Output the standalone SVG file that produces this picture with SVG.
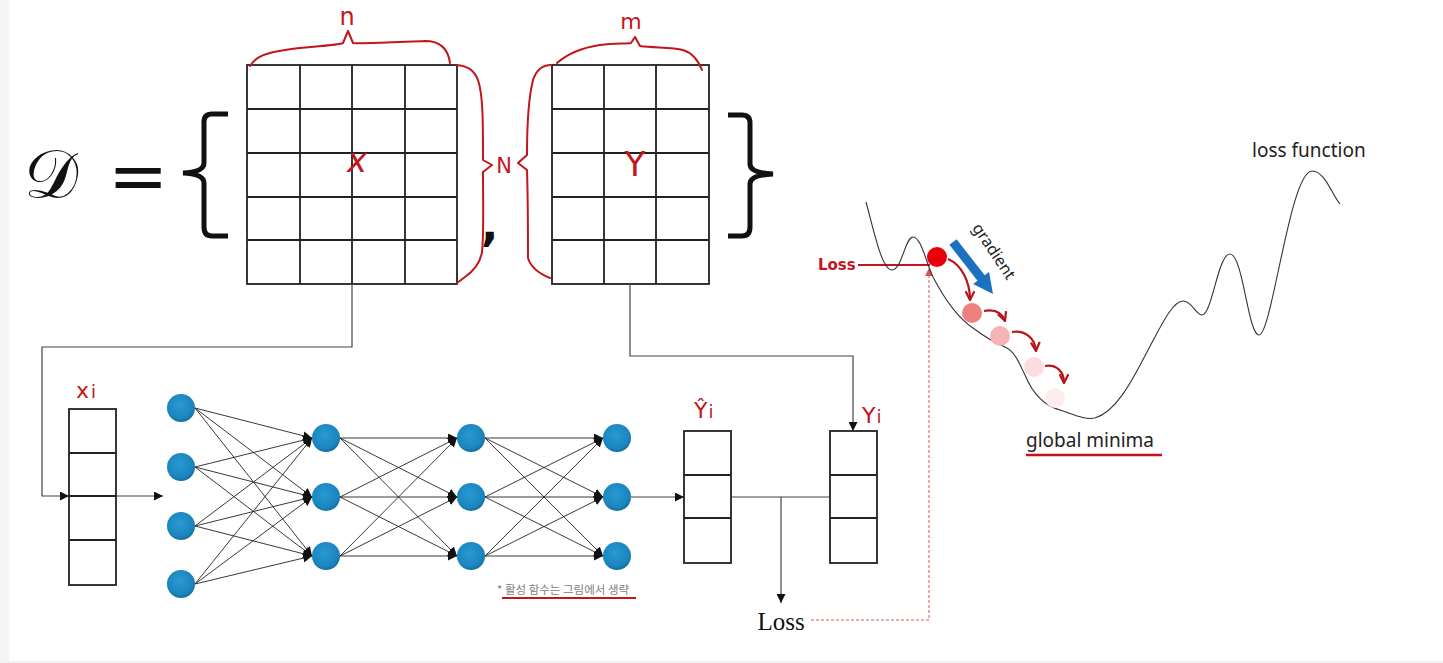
<svg xmlns="http://www.w3.org/2000/svg" width="1443" height="663" viewBox="0 0 1443 663">
<style>
.grid{fill:none;stroke:#222;stroke-width:1.8}
.hand{fill:none;stroke:#c3161c;stroke-width:2;stroke-linecap:round;stroke-linejoin:round}
.hw{fill:#c3161c;font-family:"DejaVu Sans",sans-serif}
.conn{fill:none;stroke:#444;stroke-width:1.2}
.edge{stroke:#222;stroke-width:0.9;marker-end:url(#ah)}
.node{fill:url(#ng)}
.lbl{font-family:"Noto Sans","Noto Sans CJK KR",sans-serif;fill:#222}
.ball{stroke:none}
.curv{fill:none;stroke:#b8141b;stroke-width:2.2;marker-end:url(#rv)}
</style>
<defs>
<radialGradient id="ng" cx="0.45" cy="0.4" r="0.6">
<stop offset="0" stop-color="#2a9ad2"/>
<stop offset="0.8" stop-color="#1a84bd"/>
<stop offset="1" stop-color="#146e9e"/>
</radialGradient>
<marker id="ah" viewBox="0 0 10 10" refX="10" refY="5" markerWidth="9" markerHeight="9" markerUnits="userSpaceOnUse" orient="auto">
<path d="M0,0 L10,5 L0,10 z" fill="#111"/>
</marker>
<marker id="ahr" viewBox="0 0 10 10" refX="10" refY="5" markerWidth="8" markerHeight="8" markerUnits="userSpaceOnUse" orient="auto">
<path d="M0,0 L10,5 L0,10 z" fill="#e05050"/>
</marker>
<marker id="rv" viewBox="0 0 10 10" refX="9" refY="5" markerWidth="11" markerHeight="11" markerUnits="userSpaceOnUse" orient="auto">
<path d="M1,1 L9,5 L1,9" fill="none" stroke="#b8141b" stroke-width="2"/>
</marker>
</defs>
<rect x="0" y="0" width="1443" height="663" fill="#ffffff"/>
<rect x="0" y="0" width="9" height="663" fill="#f5f5f5"/>
<rect x="0" y="661" width="1443" height="2" fill="#f2f2f2"/>

<g id="dataset">
<text x="24" y="198" font-family="DejaVu Serif,serif" font-size="68" fill="#111">𝒟</text>
<text x="108" y="200" font-family="DejaVu Sans,sans-serif" font-size="72" fill="#111">=</text>
<path d="M228,114 L212,114 Q204,114 204,122 L204,163 Q204,172 183,173 Q204,174 204,183 L204,227 Q204,236 212,236 L228,236" fill="none" stroke="#111" stroke-width="5"/>
<path d="M728,115 L742,115 Q750,115 750,123 L750,164 Q750,173 773,174 Q750,175 750,184 L750,227 Q750,236 742,236 L728,236" fill="none" stroke="#111" stroke-width="5"/>
<text x="481" y="240" font-family="DejaVu Sans,sans-serif" font-weight="bold" font-size="46" fill="#111">,</text>
</g>

<g id="matrix-x">
<rect class="grid" x="247" y="65" width="210" height="219"/>
<path class="grid" d="M300,65V284M352,65V284M405,65V284M247,109H457M247,153H457M247,197H457M247,240H457"/>
<text class="hw" x="357" y="172" font-size="34" font-style="italic" text-anchor="middle">x</text>
<path class="hand" d="M250,66 C256,56 266,53 285,50 C310,46 335,46 343,43 L348,31 L353,43 C370,44 400,42 425,41 C440,41 448,48 450,63"/>
<text class="hw" x="347" y="25" font-size="24" text-anchor="middle">n</text>
<path class="hand" d="M456,65 C468,66 474,70 478,80 C483,95 483,120 483,160 L492,165 L483,172 C483,200 484,235 482,252 C480,265 472,272 465,277 L457,283"/>
</g>

<g id="matrix-y">
<rect class="grid" x="552" y="65" width="157" height="219"/>
<path class="grid" d="M604,65V284M656,65V284M552,109H709M552,153H709M552,197H709M552,240H709"/>
<text class="hw" x="635" y="176" font-size="34" text-anchor="middle">Y</text>
<path class="hand" d="M557,63 C565,56 580,48 600,45 C615,43 625,44 631,43 L635,37 L640,46 C655,48 672,47 683,50 C693,53 698,60 702,70"/>
<text class="hw" x="631" y="29" font-size="22" text-anchor="middle">m</text>
<path class="hand" d="M551,65 C544,65 537,68 533,80 C528,100 527,130 527,155 L518,163 L527,170 C528,200 528,235 528,258 C531,268 540,274 550,278"/>
<text class="hw" x="504" y="173" font-size="21" text-anchor="middle">N</text>
</g>

<g id="connectors">
<path class="conn" d="M352,284 V347 H42 V496 H69" marker-end="url(#ah)"/>
<path class="conn" d="M116,496 H163" marker-end="url(#ah)"/>
<path class="conn" d="M630,284 V356 H853 V431" marker-end="url(#ah)"/>
<path class="conn" d="M631,497 H684" marker-end="url(#ah)"/>
<path class="conn" d="M731,497 H830"/>
<path class="conn" d="M781,497 V603" marker-end="url(#ah)"/>
<path d="M811,620 H929 V268" fill="none" stroke="#e05050" stroke-width="1" stroke-dasharray="3,2" marker-end="url(#ahr)"/>
<path d="M858,265 H930" fill="none" stroke="#c3161c" stroke-width="2"/>
<line class="edge" x1="195" y1="408" x2="312" y2="438"/>
<line class="edge" x1="195" y1="408" x2="312" y2="497"/>
<line class="edge" x1="195" y1="408" x2="312" y2="556"/>
<line class="edge" x1="195" y1="467" x2="312" y2="438"/>
<line class="edge" x1="195" y1="467" x2="312" y2="497"/>
<line class="edge" x1="195" y1="467" x2="312" y2="556"/>
<line class="edge" x1="195" y1="526" x2="312" y2="438"/>
<line class="edge" x1="195" y1="526" x2="312" y2="497"/>
<line class="edge" x1="195" y1="526" x2="312" y2="556"/>
<line class="edge" x1="195" y1="584" x2="312" y2="438"/>
<line class="edge" x1="195" y1="584" x2="312" y2="497"/>
<line class="edge" x1="195" y1="584" x2="312" y2="556"/>
<line class="edge" x1="340" y1="438" x2="457" y2="438"/>
<line class="edge" x1="340" y1="438" x2="457" y2="497"/>
<line class="edge" x1="340" y1="438" x2="457" y2="556"/>
<line class="edge" x1="340" y1="497" x2="457" y2="438"/>
<line class="edge" x1="340" y1="497" x2="457" y2="497"/>
<line class="edge" x1="340" y1="497" x2="457" y2="556"/>
<line class="edge" x1="340" y1="556" x2="457" y2="438"/>
<line class="edge" x1="340" y1="556" x2="457" y2="497"/>
<line class="edge" x1="340" y1="556" x2="457" y2="556"/>
<line class="edge" x1="485" y1="438" x2="603" y2="438"/>
<line class="edge" x1="485" y1="438" x2="603" y2="497"/>
<line class="edge" x1="485" y1="438" x2="603" y2="556"/>
<line class="edge" x1="485" y1="497" x2="603" y2="438"/>
<line class="edge" x1="485" y1="497" x2="603" y2="497"/>
<line class="edge" x1="485" y1="497" x2="603" y2="556"/>
<line class="edge" x1="485" y1="556" x2="603" y2="438"/>
<line class="edge" x1="485" y1="556" x2="603" y2="497"/>
<line class="edge" x1="485" y1="556" x2="603" y2="556"/>
</g>

<g id="xi-vector">
<rect class="grid" x="69" y="409" width="47" height="176"/>
<path class="grid" d="M69,453H116M69,496H116M69,540H116"/>
<text class="hw" x="76" y="398" font-size="22">x<tspan font-size="18" dx="2">i</tspan></text>
</g>

<g id="layer1">
<circle id="n1-1" class="node" cx="181" cy="408" r="14"/>
<circle id="n1-2" class="node" cx="181" cy="467" r="14"/>
<circle id="n1-3" class="node" cx="181" cy="526" r="14"/>
<circle id="n1-4" class="node" cx="181" cy="584" r="14"/>
</g>
<g id="layer2">
<circle id="n2-1" class="node" cx="326" cy="438" r="14"/>
<circle id="n2-2" class="node" cx="326" cy="497" r="14"/>
<circle id="n2-3" class="node" cx="326" cy="556" r="14"/>
</g>
<g id="layer3">
<circle id="n3-1" class="node" cx="471" cy="438" r="14"/>
<circle id="n3-2" class="node" cx="471" cy="497" r="14"/>
<circle id="n3-3" class="node" cx="471" cy="556" r="14"/>
</g>
<g id="layer4">
<circle id="n4-1" class="node" cx="617" cy="438" r="14"/>
<circle id="n4-2" class="node" cx="617" cy="497" r="14"/>
<circle id="n4-3" class="node" cx="617" cy="556" r="14"/>
</g>

<g id="note">
<text x="497" y="594" font-family="'Noto Sans CJK KR',sans-serif" font-size="11.5" fill="#808080">* 활성 함수는 그림에서 생략</text>
<line x1="502" y1="598" x2="636" y2="598" stroke="#c3161c" stroke-width="2"/>
</g>

<g id="yhat-vector">
<rect class="grid" x="684" y="431" width="47" height="132"/>
<path class="grid" d="M684,475H731M684,518H731"/>
<text class="hw" x="694" y="418" font-size="22">Ŷ<tspan font-size="18" dx="1">i</tspan></text>
</g>

<g id="y-vector">
<rect class="grid" x="830" y="431" width="47" height="132"/>
<path class="grid" d="M830,475H877M830,518H877"/>
<text class="hw" x="862" y="423" font-size="22">Y<tspan font-size="18" dx="1">i</tspan></text>
</g>

<g id="loss">
<text x="781" y="630" font-family="'Liberation Serif',serif" font-size="25" fill="#111" text-anchor="middle">Loss</text>
</g>

<g id="loss-curve">
<path d="M866,202 C875,235 882,270 892,270 C902,270 905,237 913,237 C921,237 926,262 933,277 C945,300 958,318 973,328 C985,337 995,343 1005,347 C1015,351 1020,365 1025,375 C1032,392 1042,405 1060,410 C1075,415 1085,420 1095,418 C1115,412 1130,385 1147,352 C1160,328 1172,301 1183,301 C1192,301 1196,315 1202,315 C1212,315 1218,254 1230,254 C1243,254 1248,335 1259,335 C1272,335 1290,171 1312,171 C1325,171 1332,195 1340,204" fill="none" stroke="#333" stroke-width="1.1"/>
<text class="lbl" x="1252" y="157" font-size="19">loss function</text>
<text class="lbl" x="1026" y="447" font-size="19">global minima</text>
<line x1="1026" y1="455" x2="1162" y2="455" stroke="#c3161c" stroke-width="2.5"/>
<text class="hw" x="818" y="270" font-size="15" font-weight="bold">Loss</text>
</g>

<g id="gradient-descent">
<circle class="ball" cx="1055" cy="398" r="10" fill="#fdeeee"/>
<circle class="ball" cx="1034" cy="367" r="10" fill="#fbdde0"/>
<circle class="ball" cx="1000" cy="336" r="10" fill="#f6b3b5"/>
<circle class="ball" cx="972" cy="313" r="10" fill="#f07f80"/>
<circle class="ball" cx="937" cy="257" r="10" fill="#e8000b"/>
<path class="curv" d="M948,259 C962,265 970,282 970,300"/>
<path class="curv" d="M984,311 C995,309 1002,313 1005,321"/>
<path class="curv" d="M1012,332 C1025,330 1035,338 1036,351"/>
<path class="curv" d="M1045,366 C1057,364 1064,372 1064,383"/>
<polygon points="956.6,239.3 984.7,275.3 989.1,272.0 993,294 973.1,284.0 977.5,280.7 949.4,244.7" fill="#1b70c0"/>
<text class="lbl" transform="translate(987,256) rotate(56)" x="0" y="-3" font-size="16" text-anchor="middle">gradient</text>
</g>
</svg>
